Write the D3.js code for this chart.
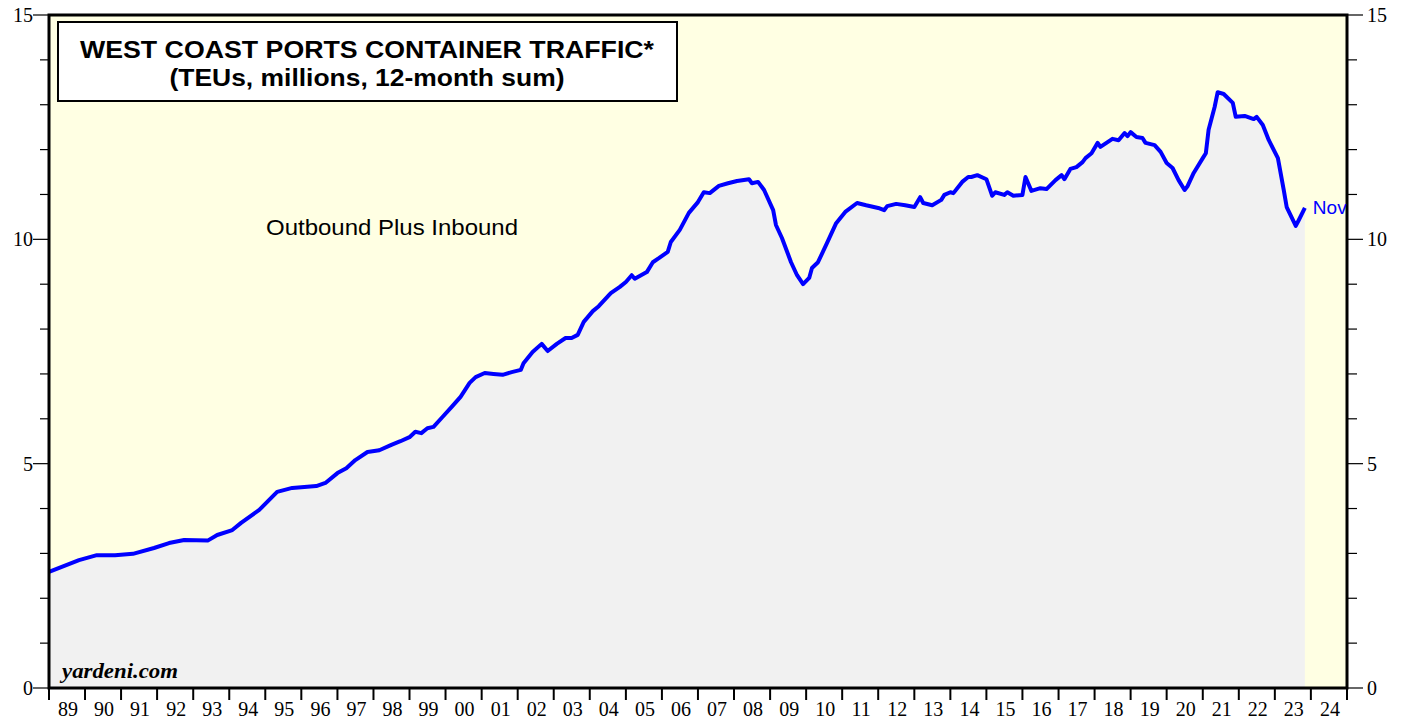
<!DOCTYPE html>
<html>
<head>
<meta charset="utf-8">
<script src="https://cdn.jsdelivr.net/npm/d3@7"></script>
<style>
  body { margin: 0; background: #fff; }
  svg { display: block; }
</style>
</head>
<body>
<script>
// monthly readings (year-month) and TEUs in millions, 12-month sum
var dates = ["1989-01","1989-11","1990-05","1990-11","1991-05","1991-12","1992-05","1992-10","1993-06","1993-09",
  "1994-02","1994-05","1994-11","1995-05","1995-10","1996-06","1996-09","1997-01","1997-04","1997-07",
  "1997-11","1998-03","1998-07","1998-10","1999-01","1999-03","1999-05","1999-07","1999-09","1999-12",
  "2000-03","2000-06","2000-09","2000-11","2001-02","2001-05","2001-08","2001-11","2002-02","2002-03",
  "2002-06","2002-09","2002-11","2003-02","2003-05","2003-07","2003-09","2003-11","2004-02","2004-04",
  "2004-08","2004-11","2005-01","2005-03","2005-04","2005-08","2005-10","2005-12","2006-03","2006-04",
  "2006-07","2006-10","2007-01","2007-03","2007-05","2007-08","2007-11","2008-02","2008-06","2008-07",
  "2008-09","2008-11","2009-02","2009-03","2009-05","2009-08","2009-10","2009-12","2010-02","2010-03",
  "2010-05","2010-08","2010-11","2011-02","2011-06","2011-09","2012-01","2012-03","2012-04","2012-07",
  "2012-10","2013-01","2013-03","2013-04","2013-07","2013-10","2013-11","2014-01","2014-02","2014-05",
  "2014-07","2014-08","2014-10","2015-01","2015-03","2015-04","2015-07","2015-08","2015-10","2016-01",
  "2016-02","2016-04","2016-07","2016-09","2016-12","2017-02","2017-03","2017-05","2017-07","2017-09",
  "2017-10","2017-12","2018-02","2018-03","2018-07","2018-09","2018-11","2018-12","2019-01","2019-03",
  "2019-05","2019-06","2019-09","2019-11","2020-01","2020-03","2020-05","2020-07","2020-08","2020-10",
  "2021-01","2021-02","2021-03","2021-05","2021-06","2021-08","2021-11","2021-12","2022-03","2022-06",
  "2022-07","2022-09","2022-11","2023-02","2023-04","2023-05","2023-08","2023-09","2023-11"];
var teus = [2.59,2.85,2.96,2.96,2.99,3.12,3.23,3.30,3.29,3.41,
  3.52,3.68,3.97,4.37,4.46,4.50,4.57,4.79,4.90,5.08,
  5.26,5.30,5.42,5.50,5.59,5.71,5.68,5.79,5.82,6.04,
  6.26,6.49,6.80,6.93,7.02,7.00,6.98,7.04,7.09,7.24,
  7.49,7.67,7.51,7.67,7.80,7.80,7.87,8.16,8.40,8.51,
  8.80,8.94,9.05,9.20,9.12,9.27,9.49,9.58,9.72,9.94,
  10.21,10.59,10.83,11.05,11.03,11.19,11.25,11.30,11.34,11.25,
  11.28,11.10,10.65,10.32,10.03,9.49,9.20,9.00,9.14,9.36,
  9.49,9.92,10.36,10.61,10.81,10.76,10.70,10.65,10.74,10.79,
  10.76,10.72,10.94,10.81,10.76,10.88,10.99,11.05,11.03,11.28,
  11.39,11.39,11.43,11.34,10.97,11.05,10.99,11.05,10.97,10.99,
  11.39,11.08,11.14,11.12,11.32,11.43,11.34,11.57,11.61,11.72,
  11.81,11.92,12.15,12.06,12.24,12.21,12.37,12.30,12.39,12.28,
  12.26,12.15,12.10,11.95,11.70,11.59,11.32,11.10,11.19,11.48,
  11.81,11.92,12.44,12.95,13.28,13.24,13.04,12.73,12.75,12.68,
  12.73,12.55,12.21,11.81,11.10,10.72,10.30,10.43,10.70];
var years = d3.range(1989, 2025);
var yTicks = [0, 5, 10, 15];

var W = 1405, H = 721;
var pLeft = 49, pRight = 1347, pTop = 15, pBottom = 688;

var parse = d3.timeParse("%Y-%m");
var data = dates.map(function(d, i) { return {date: parse(d), value: teus[i]}; });

var svg = d3.select("body").append("svg")
  .attr("width", W)
  .attr("height", H);

var x = d3.scaleTime()
  .domain([new Date(1989, 0, 1), new Date(2025, 0, 1)])
  .range([pLeft, pRight]);
var y = d3.scaleLinear()
  .domain([0, 15])
  .range([pBottom, pTop]);

// plot background
svg.append("rect")
  .attr("x", pLeft).attr("y", pTop)
  .attr("width", pRight - pLeft).attr("height", pBottom - pTop)
  .attr("fill", "#ffffe3");

// area under the line
var area = d3.area()
  .x(function(d) { return x(d.date); })
  .y0(y(0))
  .y1(function(d) { return y(d.value); });
svg.append("path")
  .datum(data)
  .attr("d", area)
  .attr("fill", "#f1f1f1");

var line = d3.line()
  .x(function(d) { return x(d.date); })
  .y(function(d) { return y(d.value); });
svg.append("path")
  .datum(data)
  .attr("d", line)
  .attr("fill", "none")
  .attr("stroke", "#0000ff")
  .attr("stroke-width", 4)
  .attr("stroke-linejoin", "round");

// y ticks, both sides
var minor = d3.range(0, 16);
svg.append("g").selectAll("line")
  .data(minor).enter().append("line")
  .attr("x1", function(d) { return yTicks.indexOf(d) >= 0 ? pLeft - 16 : pLeft - 9; })
  .attr("x2", pLeft)
  .attr("y1", function(d) { return y(d); })
  .attr("y2", function(d) { return y(d); })
  .attr("stroke", "#000").attr("stroke-width", 1.2);
svg.append("g").selectAll("line")
  .data(minor).enter().append("line")
  .attr("x1", pRight)
  .attr("x2", function(d) { return yTicks.indexOf(d) >= 0 ? pRight + 16 : pRight + 10; })
  .attr("y1", function(d) { return y(d); })
  .attr("y2", function(d) { return y(d); })
  .attr("stroke", "#000").attr("stroke-width", 1.2);

svg.append("g").selectAll("text")
  .data(yTicks).enter().append("text")
  .attr("x", 33)
  .attr("y", function(d) { return y(d) + 7; })
  .attr("text-anchor", "end")
  .style("font-family", "Liberation Serif, serif")
  .style("font-size", "20px")
  .text(function(d) { return d; });
svg.append("g").selectAll("text")
  .data(yTicks).enter().append("text")
  .attr("x", 1367)
  .attr("y", function(d) { return y(d) + 7; })
  .attr("text-anchor", "start")
  .style("font-family", "Liberation Serif, serif")
  .style("font-size", "20px")
  .text(function(d) { return d; });

// year ticks and labels
svg.append("g").selectAll("line")
  .data(years.concat([2025])).enter().append("line")
  .attr("x1", function(d) { return x(new Date(d, 0, 1)); })
  .attr("x2", function(d) { return x(new Date(d, 0, 1)); })
  .attr("y1", pBottom)
  .attr("y2", pBottom + 12)
  .attr("stroke", "#000").attr("stroke-width", 2);
svg.append("g").selectAll("text")
  .data(years).enter().append("text")
  .attr("x", function(d) { return (x(new Date(d, 0, 1)) + x(new Date(d + 1, 0, 1))) / 2 + 1; })
  .attr("y", 716)
  .attr("text-anchor", "middle")
  .style("font-family", "Liberation Serif, serif")
  .style("font-size", "20px")
  .text(function(d) { return String(d).slice(2); });

// frame
svg.append("rect")
  .attr("x", pLeft).attr("y", pTop)
  .attr("width", pRight - pLeft).attr("height", pBottom - pTop)
  .attr("fill", "none")
  .attr("stroke", "#000")
  .attr("stroke-width", 3);

// title box
svg.append("rect")
  .attr("x", 58).attr("y", 22)
  .attr("width", 619).attr("height", 79)
  .attr("fill", "#fff")
  .attr("stroke", "#000")
  .attr("stroke-width", 2);
svg.append("text")
  .attr("x", 367).attr("y", 58)
  .attr("text-anchor", "middle")
  .attr("textLength", 574).attr("lengthAdjust", "spacingAndGlyphs")
  .style("font-family", "Liberation Sans, Arial, sans-serif")
  .style("font-weight", "bold")
  .style("font-size", "24px")
  .text("WEST COAST PORTS CONTAINER TRAFFIC*");
svg.append("text")
  .attr("x", 367).attr("y", 86)
  .attr("text-anchor", "middle")
  .attr("textLength", 395).attr("lengthAdjust", "spacingAndGlyphs")
  .style("font-family", "Liberation Sans, Arial, sans-serif")
  .style("font-weight", "bold")
  .style("font-size", "24px")
  .text("(TEUs, millions, 12-month sum)");

svg.append("text")
  .attr("x", 266).attr("y", 235)
  .attr("textLength", 252).attr("lengthAdjust", "spacingAndGlyphs")
  .style("font-family", "Liberation Sans, Arial, sans-serif")
  .style("font-size", "22px")
  .text("Outbound Plus Inbound");

svg.append("text")
  .attr("x", 62).attr("y", 678)
  .attr("textLength", 116).attr("lengthAdjust", "spacingAndGlyphs")
  .style("font-family", "Liberation Serif, serif")
  .style("font-weight", "bold")
  .style("font-style", "italic")
  .style("font-size", "21px")
  .text("yardeni.com");

// last point label
var last = data[data.length - 1];
svg.append("text")
  .attr("x", x(last.date) + 8)
  .attr("y", y(last.value) + 6)
  .attr("fill", "#0000ff")
  .style("font-family", "Liberation Sans, Arial, sans-serif")
  .style("font-size", "19px")
  .text("Nov");
</script>
</body>
</html>
